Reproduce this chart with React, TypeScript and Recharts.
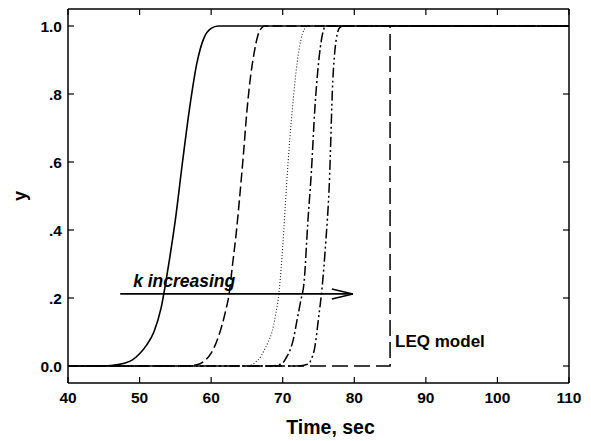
import React from "react";
import { LineChart, Line, XAxis, YAxis, ReferenceDot } from "recharts";

// breakthrough curves, [time (s), y]
const CURVE_1: [number, number][] = [
  [40, 0], [45, 0], [47, 0.004], [48, 0.009], [49, 0.018], [50, 0.036], [51, 0.062], [52, 0.1],
  [53, 0.17], [54, 0.29], [55, 0.43], [56, 0.6], [57, 0.76], [58, 0.89], [59, 0.965], [60, 0.993],
  [61, 1], [110, 1],
];
const CURVE_2: [number, number][] = [
  [40, 0], [56, 0], [58, 0.004], [59, 0.014], [60, 0.038], [61, 0.085], [62, 0.16], [62.5, 0.21],
  [63, 0.3], [63.5, 0.39], [64, 0.5], [64.5, 0.62], [65, 0.75], [65.5, 0.85], [66, 0.92],
  [66.5, 0.97], [67, 0.993], [67.5, 1], [110, 1],
];
const CURVE_3: [number, number][] = [
  [40, 0], [65, 0], [66, 0.008], [67, 0.03], [67.5, 0.05], [68, 0.072], [68.5, 0.1], [69, 0.15],
  [69.5, 0.22], [70, 0.35], [70.5, 0.52], [71, 0.67], [71.5, 0.79], [72, 0.89], [72.5, 0.955],
  [73, 0.99], [73.5, 1], [110, 1],
];
const CURVE_4: [number, number][] = [
  [40, 0], [68.5, 0], [70, 0.009], [70.5, 0.025], [71, 0.045], [71.5, 0.08], [72, 0.135],
  [72.5, 0.19], [73, 0.25], [73.5, 0.42], [74, 0.57], [74.5, 0.76], [75, 0.89], [75.5, 0.97],
  [76, 1], [110, 1],
];
const CURVE_5: [number, number][] = [
  [40, 0], [72, 0], [73.5, 0.005], [74, 0.02], [74.5, 0.057], [75, 0.14], [75.5, 0.23], [76, 0.36],
  [76.5, 0.53], [77, 0.84], [77.3, 0.93], [77.6, 0.975], [78, 0.996], [78.5, 1], [110, 1],
];
const LEQ: [number, number][] = [[40, 0], [85, 0], [85, 1], [110, 1]];
const ARROW: [number, number][] = [[47.3, 0.212], [79.8, 0.212]];

const X_TICKS = [40, 50, 60, 70, 80, 90, 100, 110];
const Y_TICKS = [0, 0.2, 0.4, 0.6, 0.8, 1.0];
const Y_TICK_LABELS = ["0.0", ".2", ".4", ".6", ".8", "1.0"];

const FONT = "'Liberation Sans', Arial, sans-serif";

const toPts = (arr: [number, number][]) => arr.map(([x, y]) => ({ x, y }));

const tickStyle = { fontFamily: FONT, fontSize: 15.5, fontWeight: 700, fill: "#000" };
const axisLine = { stroke: "#000", strokeWidth: 1.5 };
const tickLine = { stroke: "#000", strokeWidth: 1.2 };

function ArrowHead(props: any) {
  const { cx, cy, index } = props;
  if (index !== ARROW.length - 1) return <g key={`a${index}`} />;
  return (
    <path
      key={`a${index}`}
      d={`M ${cx - 21} ${cy - 5} L ${cx} ${cy} L ${cx - 21} ${cy + 5}`}
      fill="none"
      stroke="#000"
      strokeWidth={1.5}
    />
  );
}

export default function App() {
  return (
    <div style={{ position: "absolute", left: 0, top: 0, width: 591, height: 441, background: "#fff" }}>
      <LineChart width={591} height={441} margin={{ top: 8, right: 21, bottom: 0, left: 0 }}>
        <XAxis
          dataKey="x"
          type="number"
          domain={[40, 110]}
          ticks={X_TICKS}
          allowDataOverflow
          height={58}
          tickSize={-6}
          tickMargin={15}
          tick={tickStyle}
          axisLine={axisLine}
          tickLine={tickLine}
          label={{
            content: ({ viewBox }: any) => (
              <text
                x={viewBox.x + viewBox.width / 2 + 12}
                y={viewBox.y + viewBox.height - 7}
                textAnchor="middle"
                style={{ fontFamily: FONT, fontSize: 19.5, fontWeight: 700 }}
              >
                Time, sec
              </text>
            ),
          }}
        />
        {/* mirrored top/right axes close the frame with inward ticks */}
        <XAxis
          xAxisId="top"
          orientation="top"
          dataKey="x"
          type="number"
          domain={[40, 110]}
          ticks={X_TICKS}
          allowDataOverflow
          height={1}
          tickSize={-6}
          tickFormatter={() => ""}
          axisLine={axisLine}
          tickLine={tickLine}
        />
        <YAxis
          type="number"
          domain={[-0.05, 1.05]}
          ticks={Y_TICKS}
          allowDataOverflow
          width={68}
          tickSize={-6}
          tickMargin={12}
          tick={tickStyle}
          tickFormatter={(v: number) => Y_TICK_LABELS[Y_TICKS.indexOf(v)] ?? ""}
          axisLine={axisLine}
          tickLine={tickLine}
          label={{
            content: ({ viewBox }: any) => {
              const x = viewBox.x + 20;
              const y = viewBox.y + viewBox.height / 2;
              return (
                <text
                  x={x}
                  y={y}
                  transform={`rotate(-90, ${x}, ${y})`}
                  textAnchor="middle"
                  dominantBaseline="central"
                  style={{ fontFamily: FONT, fontSize: 18, fontWeight: 700 }}
                >
                  y
                </text>
              );
            },
          }}
        />
        <YAxis
          yAxisId="right"
          orientation="right"
          type="number"
          domain={[-0.05, 1.05]}
          ticks={Y_TICKS}
          allowDataOverflow
          width={1}
          tickSize={-6}
          tickFormatter={() => ""}
          axisLine={axisLine}
          tickLine={tickLine}
        />

        {/* invisible series bound to the mirrored axes */}
        <Line data={toPts(LEQ)} xAxisId="top" yAxisId="right" dataKey="y" stroke="none"
          dot={false} activeDot={false} isAnimationActive={false} />

        <Line data={toPts(LEQ)} dataKey="y" type="linear" stroke="#000" strokeWidth={1.5}
          strokeDasharray="16 6" dot={false} activeDot={false} isAnimationActive={false} />
        <Line data={toPts(CURVE_5)} dataKey="y" type="monotone" stroke="#000" strokeWidth={1.5}
          strokeDasharray="10 3 2 3 2 3" dot={false} activeDot={false} isAnimationActive={false} />
        <Line data={toPts(CURVE_4)} dataKey="y" type="monotone" stroke="#000" strokeWidth={1.5}
          strokeDasharray="10 3 2 3" dot={false} activeDot={false} isAnimationActive={false} />
        <Line data={toPts(CURVE_3)} dataKey="y" type="monotone" stroke="#222" strokeWidth={1.1}
          strokeDasharray="1 2" dot={false} activeDot={false} isAnimationActive={false} />
        <Line data={toPts(CURVE_2)} dataKey="y" type="monotone" stroke="#000" strokeWidth={1.5}
          strokeDasharray="10 4" dot={false} activeDot={false} isAnimationActive={false} />
        <Line data={toPts(CURVE_1)} dataKey="y" type="monotone" stroke="#000" strokeWidth={1.6}
          dot={false} activeDot={false} isAnimationActive={false} />

        <Line data={toPts(ARROW)} dataKey="y" type="linear" stroke="#000" strokeWidth={1.8}
          dot={ArrowHead} activeDot={false} isAnimationActive={false} />

        <ReferenceDot
          x={49.1}
          y={0.233}
          r={0}
          fill="none"
          stroke="none"
          label={{
            content: ({ viewBox }: any) => (
              <text
                x={viewBox.x}
                y={viewBox.y}
                style={{ fontFamily: FONT, fontSize: 17.5, fontWeight: 700, fontStyle: "italic" }}
              >
                k increasing
              </text>
            ),
          }}
        />
        <ReferenceDot
          x={85.7}
          y={0.057}
          r={0}
          fill="none"
          stroke="none"
          label={{
            content: ({ viewBox }: any) => (
              <text
                x={viewBox.x}
                y={viewBox.y}
                style={{ fontFamily: FONT, fontSize: 17, fontWeight: 700 }}
              >
                LEQ model
              </text>
            ),
          }}
        />
      </LineChart>
    </div>
  );
}
